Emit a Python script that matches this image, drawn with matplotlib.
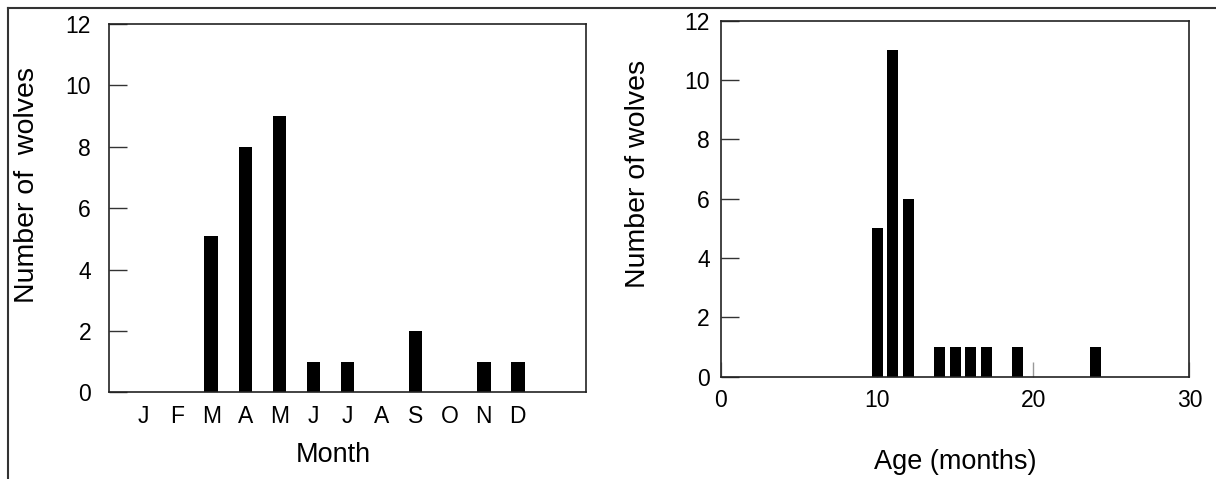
import matplotlib
matplotlib.use("Agg")
import matplotlib.pyplot as plt
from matplotlib.lines import Line2D

plt.rcParams["font.family"] = ["Liberation Sans", "DejaVu Sans"]

# left panel: wolves by month
MONTHS = ["J", "F", "M", "A", "M", "J", "J", "A", "S", "O", "N", "D"]
MONTH_COUNTS = [0, 0, 5.1, 8, 9, 1, 1, 0, 2, 0, 1, 1]

# right panel: wolves by age
AGES = [10, 11, 12, 14, 15, 16, 17, 19, 24]
AGE_COUNTS = [5, 11, 6, 1, 1, 1, 1, 1, 1]

Y_TICKS = [0, 2, 4, 6, 8, 10, 12]
AGE_TICKS = [0, 10, 20, 30]

SPINE = "#222222"


def style_axes(ax):
    for s in ax.spines.values():
        s.set_color(SPINE)
        s.set_linewidth(1.2)
    ax.set_axisbelow(True)


fig = plt.figure(figsize=(12.16, 4.79), dpi=100)

# --- month panel ---
ax1 = fig.add_axes([0.0897, 0.181, 0.3922, 0.769])
positions = list(range(1, len(MONTHS) + 1))
ax1.bar(positions, MONTH_COUNTS, width=0.4, color="black", zorder=2)
ax1.set_xlim(0, 14)
ax1.set_ylim(0, 12)
ax1.set_xticks(positions)
ax1.set_xticklabels(MONTHS)
ax1.set_yticks(Y_TICKS)
ax1.tick_params(axis="x", length=0, pad=9, labelsize=16.5)
ax1.tick_params(axis="y", direction="in", length=13, width=1, color="#333333",
                pad=13, labelsize=16.5)
style_axes(ax1)
ax1.set_xlabel("Month", fontsize=19.5, va="center")
ax1.xaxis.set_label_coords(0.471, -0.170)
ax1.set_ylabel("Number of  wolves", fontsize=20.5, va="center")
ax1.yaxis.set_label_coords(-0.173, 0.563)

# --- age panel ---
ax2 = fig.add_axes([0.5929, 0.2136, 0.3852, 0.7432])
ax2.bar(AGES, AGE_COUNTS, width=0.7, color="black", zorder=2)
ax2.set_xlim(0, 30)
ax2.set_ylim(0, 12)
ax2.set_xticks(AGE_TICKS)
ax2.set_yticks(Y_TICKS)
ax2.tick_params(axis="x", direction="in", length=11, width=1, color="#999999",
                pad=9, labelsize=16.5)
ax2.tick_params(axis="y", direction="in", length=13, width=1, color="#333333",
                pad=8, labelsize=16.5)
style_axes(ax2)
ax2.set_xlabel("Age (months)", fontsize=19.5, va="center")
ax2.xaxis.set_label_coords(0.501, -0.239)
ax2.set_ylabel("Number of wolves", fontsize=20.5, va="center")
ax2.yaxis.set_label_coords(-0.177, 0.569)

# outer frame (top and left edges only)
fig.add_artist(Line2D([8 / 1216, 1.0], [1 - 8 / 479, 1 - 8 / 479],
                      transform=fig.transFigure, color="#333333", lw=1.5))
fig.add_artist(Line2D([8 / 1216, 8 / 1216], [0.0, 1 - 8 / 479],
                      transform=fig.transFigure, color="#333333", lw=1.5))

fig.savefig("out.png", dpi=100)
